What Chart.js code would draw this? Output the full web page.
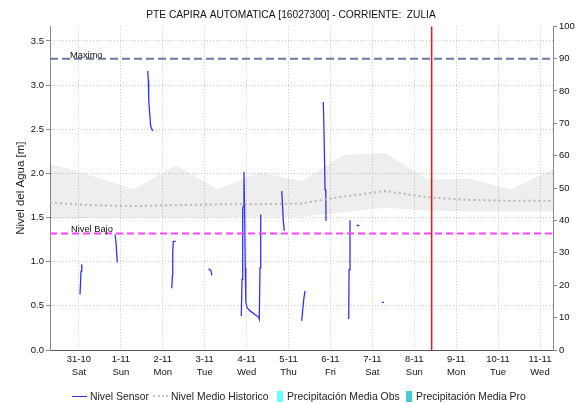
<!DOCTYPE html>
<html lang="es">

<head>
  <meta charset="UTF-8">
  <title>Nivel PTE CAPIRA</title>
  <script src="https://cdn.jsdelivr.net/npm/chart.js"></script>
  <style>
    body { margin: 0; background: #fff; }
    #wrap { position: relative; width: 582px; height: 404px; font-family: 'Liberation Sans', Arial, sans-serif; }
    #legend { position: absolute; top: 389px; left: 0; width: 582px; height: 14px; font-size: 10.4px; color: #222; }
    #legend .item { position: absolute; top: 0; height: 14px; display: flex; align-items: center; white-space: nowrap; }
    #legend .line { width: 15px; height: 0; margin-right: 3px; }
    #legend .box { width: 6px; height: 11px; margin-right: 4px; }
  </style>
</head>

<body>
  <div id="wrap">
    <canvas id="nivelChart" width="582" height="404"></canvas>
    <div id="legend">
      <div class="item" style="left:72px"><span class="line" style="border-top:1.5px solid #3232ff"></span>Nivel Sensor</div>
      <div class="item" style="left:153px"><span class="line" style="border-top:2px dotted #c4c4c4"></span>Nivel Medio Historico</div>
      <div class="item" style="left:277px"><span class="box" style="background:#66ffff"></span>Precipitación Media Obs</div>
      <div class="item" style="left:406px"><span class="box" style="background:#44cccc"></span>Precipitación Media Pro</div>
    </div>
  </div>

  <script>
    // days counted from 31-10 00:00
    const tickDays = [0, 1, 2, 3, 4, 5, 6, 7, 8, 9, 10, 11];
    const tickLabels = [
      ['31-10', 'Sat'], ['1-11', 'Sun'], ['2-11', 'Mon'], ['3-11', 'Tue'],
      ['4-11', 'Wed'], ['5-11', 'Thu'], ['6-11', 'Fri'], ['7-11', 'Sat'],
      ['8-11', 'Sun'], ['9-11', 'Mon'], ['10-11', 'Tue'], ['11-11', 'Wed']
    ];
    const dayMin = -0.69;
    const dayMax = 11.31;

    // historical daily statistics
    const histDays = [-0.69, 0.31, 1.31, 2.31, 3.31, 4.31, 5.31, 6.31, 7.31, 8.31, 9.31, 10.31, 11.31];
    const histMax = [2.11, 1.97, 1.82, 2.09, 1.82, 2.01, 1.91, 2.21, 2.23, 1.93, 1.94, 1.82, 2.05];
    const histMin = [1.48, 1.50, 1.50, 1.50, 1.50, 1.51, 1.51, 1.56, 1.61, 1.58, 1.57, 1.57, 1.57];
    const histMean = [1.67, 1.64, 1.63, 1.64, 1.65, 1.65, 1.66, 1.74, 1.80, 1.73, 1.70, 1.69, 1.69];

    // sensor readings, null marks a gap in transmission
    const sensorDays = [
      0.026, 0.050, 0.067, 0.5,
      0.861, 0.885, 0.916, 1.3,
      1.641, 1.656, 1.665, 1.689, 1.713, 1.760, 2.0,
      2.214, 2.230, 2.238, 2.252, 2.309, 2.7,
      3.087, 3.144, 3.175, 3.5,
      3.874, 3.891, 3.907, 3.926, 3.938, 3.950, 3.969, 3.981, 4.010, 4.089, 4.208, 4.289, 4.303, 4.320, 4.337, 4.6,
      4.838, 4.852, 4.876, 4.900, 5.1,
      5.315, 5.363, 5.394, 5.6,
      5.830, 5.847, 5.871, 5.888, 5.895, 6.2,
      6.436, 6.445, 6.467, 6.55,
      6.627, 6.689, 7.0,
      7.223, 7.278
    ];
    const sensorLevels = [
      0.63, 0.89, 0.97, null,
      1.31, 1.215, 0.99, null,
      3.16, 3.05, 2.84, 2.67, 2.53, 2.48, null,
      0.70, 0.84, 1.10, 1.23, 1.23, null,
      0.92, 0.905, 0.845, null,
      0.385, 0.80, 1.61, 1.63, 2.02, 1.65, 0.93, 0.55, 0.48, 0.44, 0.40, 0.37, 0.35, 0.93, 1.535, null,
      1.80, 1.69, 1.46, 1.35, null,
      0.33, 0.57, 0.67, null,
      2.81, 2.48, 1.82, 1.80, 1.46, null,
      0.35, 0.91, 1.47, null,
      1.41, 1.41, null,
      0.54, 0.54
    ];

    // precipitation (right axis, mm) - no records in this window
    const precipObs = [];
    const precipPro = [];

    const nivelMaximo = 3.3;
    const nivelBajo = 1.32;
    const nowDay = 8.415;
    const levelTop = 3.667;

    const toPoints = (xs, ys) => xs.map((x, i) => ({ x: x, y: ys[i] }));
    const flat = { pointRadius: 0, pointHoverRadius: 0, tension: 0 };

    // writes the threshold names just above their lines
    const thresholdLabels = {
      id: 'thresholdLabels',
      afterDatasetsDraw(chart) {
        const { ctx, scales } = chart;
        const x = scales.x.getPixelForValue(dayMin) + 20;
        ctx.save();
        ctx.font = '9.3px "Liberation Sans", Arial, sans-serif';
        ctx.fillStyle = '#111';
        ctx.textBaseline = 'alphabetic';
        ctx.fillText('Maximo', x, scales.y.getPixelForValue(nivelMaximo) - 1);
        ctx.fillText('Nivel Bajo', x + 1, scales.y.getPixelForValue(nivelBajo) - 1);
        ctx.restore();
      }
    };

    const fontFamily = "'Liberation Sans', Arial, sans-serif";

    new Chart(document.getElementById('nivelChart').getContext('2d'), {
      type: 'line',
      data: {
        datasets: [
          { label: 'Max Historico', data: toPoints(histDays, histMax), borderWidth: 0, backgroundColor: 'rgba(0,0,0,0.065)', fill: '+1', ...flat },
          { label: 'Min Historico', data: toPoints(histDays, histMin), borderWidth: 0, fill: false, ...flat },
          { label: 'Nivel Medio Historico', data: toPoints(histDays, histMean), borderColor: '#c4c4c4', borderWidth: 2, borderDash: [2, 3], fill: false, ...flat },
          { label: 'Maximo', data: toPoints([dayMin, dayMax], [nivelMaximo, nivelMaximo]), borderColor: '#6a78a6', borderWidth: 2, borderDash: [8, 4], fill: false, ...flat },
          { label: 'Nivel Bajo', data: toPoints([dayMin, dayMax], [nivelBajo, nivelBajo]), borderColor: '#ff44ff', borderWidth: 2, borderDash: [7, 4], fill: false, ...flat },
          { label: 'Nivel Sensor', data: toPoints(sensorDays, sensorLevels), borderColor: '#3232ff', borderWidth: 1.3, spanGaps: false, fill: false, ...flat },
          { label: 'Ahora', data: toPoints([nowDay, nowDay], [0, levelTop]), borderColor: '#ff1010', borderWidth: 1.5, fill: false, ...flat },
          { type: 'bar', label: 'Precipitación Media Obs', data: precipObs, yAxisID: 'y2', backgroundColor: '#66ffff', barThickness: 6 },
          { type: 'bar', label: 'Precipitación Media Pro', data: precipPro, yAxisID: 'y2', backgroundColor: '#44cccc', barThickness: 6 }
        ]
      },
      options: {
        responsive: false,
        animation: false,
        events: [],
        layout: { padding: { bottom: 24 } },
        plugins: {
          legend: { display: false },
          tooltip: { enabled: false },
          title: {
            display: true,
            text: 'PTE CAPIRA AUTOMATICA [16027300] - CORRIENTE:  ZULIA',
            color: '#111',
            font: { family: fontFamily, size: 10.2, weight: 'normal' },
            padding: { top: 9, bottom: 5 }
          }
        },
        scales: {
          x: {
            type: 'linear',
            offset: false,
            min: dayMin,
            max: dayMax,
            afterBuildTicks: (scale) => { scale.ticks = tickDays.map(v => ({ value: v })); },
            afterFit: (scale) => { scale.height = 30; },
            ticks: {
              callback: (v, i) => tickLabels[i],
              maxRotation: 0,
              autoSkip: false,
              padding: 3,
              color: '#111',
              font: { family: fontFamily, size: 9.5, lineHeight: '13px' }
            },
            grid: { offset: false, color: '#c8c8c8', drawTicks: false },
            border: { color: '#555', dash: [1, 2] }
          },
          y: {
            position: 'left',
            min: 0,
            max: levelTop,
            afterFit: (scale) => { scale.width = 50; },
            ticks: {
              stepSize: 0.5,
              includeBounds: false,
              padding: 2,
              color: '#111',
              font: { family: fontFamily, size: 9.5 },
              callback: (v) => v.toFixed(1)
            },
            grid: { color: '#c8c8c8', tickLength: 4, tickColor: '#888', tickBorderDash: [] },
            border: { color: '#888', dash: [1, 2] },
            title: {
              display: true,
              text: 'Nivel del Agua [m]',
              color: '#222',
              font: { family: fontFamily, size: 11.5 },
              padding: { top: 14, bottom: 0 }
            }
          },
          y2: {
            position: 'right',
            min: 0,
            max: 100,
            afterFit: (scale) => { scale.width = 29; },
            ticks: {
              stepSize: 10,
              padding: 2,
              color: '#111',
              font: { family: fontFamily, size: 9.5 }
            },
            grid: { drawOnChartArea: false, tickLength: 4, tickColor: '#888' },
            border: { color: '#888' }
          }
        }
      },
      plugins: [thresholdLabels]
    });
  </script>
</body>

</html>
